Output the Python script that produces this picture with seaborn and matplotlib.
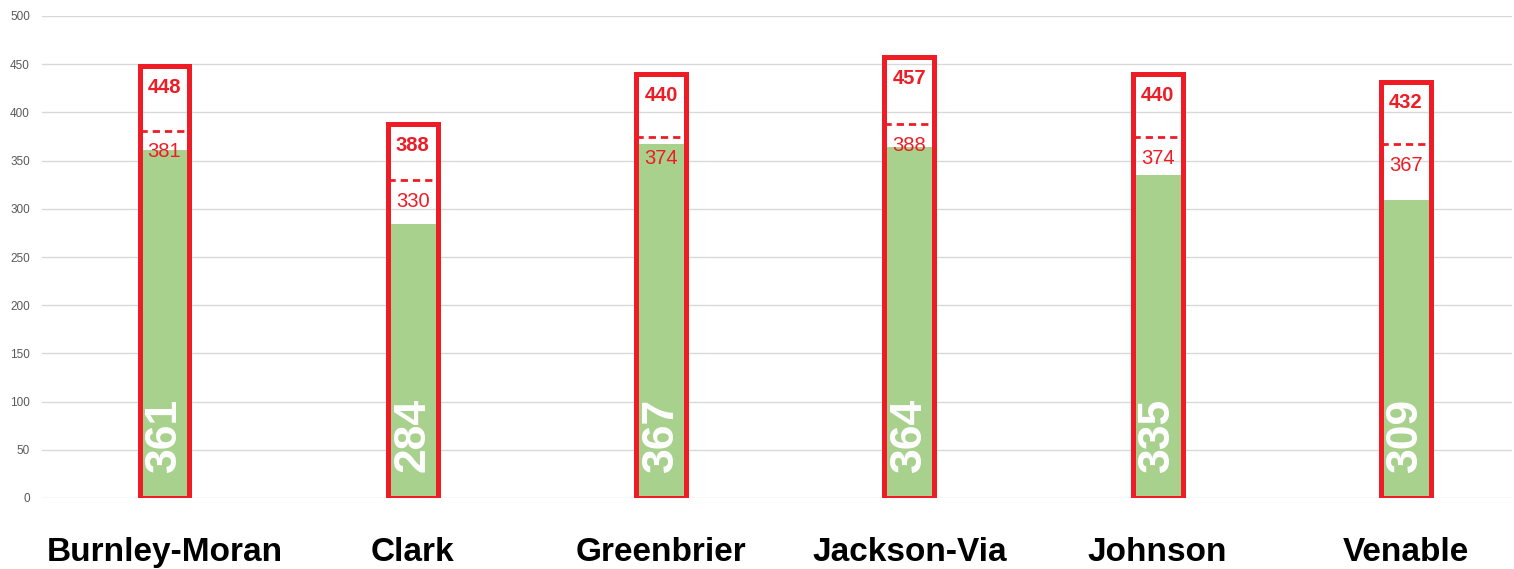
import matplotlib
matplotlib.use("Agg")
import matplotlib.pyplot as plt
import seaborn as sns
import pandas as pd

schools = ["Burnley-Moran", "Clark", "Greenbrier", "Jackson-Via", "Johnson", "Venable"]
enrollment = [361, 284, 367, 364, 335, 309]
capacity = [448, 388, 440, 457, 440, 432]
capacity_85 = [381, 330, 374, 388, 374, 367]
yticks = [0, 50, 100, 150, 200, 250, 300, 350, 400, 450, 500]

RED = "#EE1C25"
GREEN = "#A9D18E"
FONT = ["Liberation Sans Narrow", "Liberation Sans", "DejaVu Sans"]

sns.set_theme(style="white")
plt.rcParams["font.family"] = FONT

df = pd.DataFrame({"school": schools, "enrollment": enrollment, "capacity": capacity})

fig = plt.figure(figsize=(15.14, 5.69), dpi=100)
ax = fig.add_axes([42 / 1514, 1 - 498 / 569, (1512 - 42) / 1514, (498 - 16) / 569])

BW = 0.201
sns.barplot(data=df, x="school", y="enrollment", color=GREEN, width=BW,
            saturation=1, ax=ax, linewidth=0)
n_green = len(ax.patches)
sns.barplot(data=df, x="school", y="capacity", color=RED, width=BW,
            saturation=1, ax=ax)
for p in ax.patches[n_green:]:
    p.set_facecolor("none")
    p.set_edgecolor(RED)
    p.set_linewidth(3.6)
    p.set_zorder(4)

for i, (c, c85, e) in enumerate(zip(capacity, capacity_85, enrollment)):
    ax.hlines(c85, i - BW / 2, i + BW / 2, colors=RED, linewidth=2,
              linestyles=(0, (2.6, 1.8)), zorder=3)
    ax.text(i, c - 22, str(c), color=RED, fontsize=14.5, fontweight="bold",
            ha="center", va="center", zorder=5)
    ax.text(i, c85 - 22, str(c85), color=RED, fontsize=14.5,
            ha="center", va="center", zorder=5)
    ax.text(i, 27, str(e), color="white", fontsize=32, fontweight="bold",
            rotation=90, ha="center", va="bottom", zorder=5)

ax.set_ylim(0, 500)
ax.set_xlim(-0.4933, 5.427)
ax.set_yticks(yticks)
ax.yaxis.grid(True, color="#D9D9D9", linewidth=1)
ax.set_axisbelow(True)
for s in ax.spines.values():
    s.set_visible(False)
ax.set_xlabel("")
ax.set_ylabel("")
ax.tick_params(axis="y", length=0, pad=8.6, labelsize=8.5, labelcolor="#595959")
ax.tick_params(axis="x", length=0, pad=28, labelsize=24)
for lbl in ax.get_xticklabels():
    lbl.set_fontweight("bold")
    lbl.set_color("black")

fig.savefig("out.png", dpi=100)
